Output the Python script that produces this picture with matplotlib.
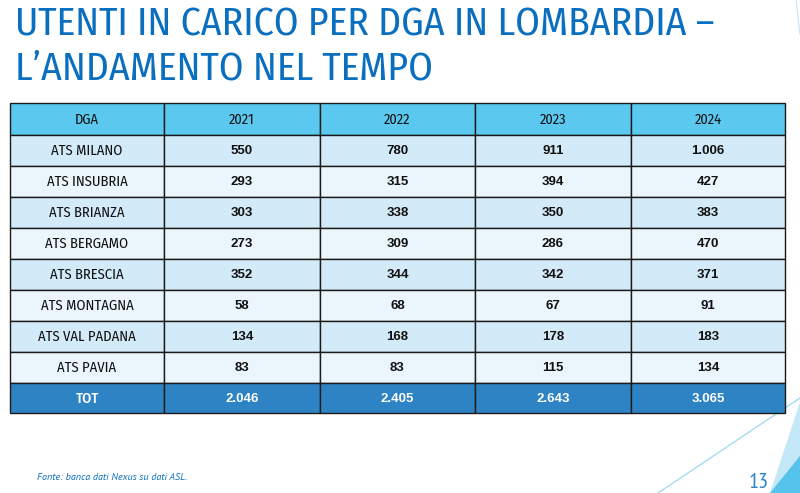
import matplotlib
matplotlib.use("Agg")
import matplotlib.pyplot as plt
from matplotlib.patches import Rectangle, Polygon

# ---- data ----
title_lines = ["UTENTI IN CARICO PER DGA IN LOMBARDIA –", "L’ANDAMENTO NEL TEMPO"]
header = ["DGA", "2021", "2022", "2023", "2024"]
dga = ["ATS MILANO", "ATS INSUBRIA", "ATS BRIANZA", "ATS BERGAMO",
       "ATS BRESCIA", "ATS MONTAGNA", "ATS VAL PADANA", "ATS PAVIA"]
v2021 = ["550", "293", "303", "273", "352", "58", "134", "83"]
v2022 = ["780", "315", "338", "309", "344", "68", "168", "83"]
v2023 = ["911", "394", "350", "286", "342", "67", "178", "115"]
v2024 = ["1.006", "427", "383", "470", "371", "91", "183", "134"]
tot_label = "TOT"
tot = ["2.046", "2.405", "2.643", "3.065"]
source = "Fonte: banca dati Nexus su dati ASL."
page = "13"

# ---- styling ----
BLUE = "#0B6FC0"
HEAD = "#5BC9EF"
ROW_A = "#D3EAF8"
ROW_B = "#EAF5FC"
TOTC = "#2E83C4"
COND = ["Fira Sans Condensed", "PT Sans Narrow", "DejaVu Sans"]
NARROW = ["PT Sans Narrow", "DejaVu Sans"]
NUM = ["Liberation Sans", "DejaVu Sans"]

W, H = 800, 493
fig = plt.figure(figsize=(W / 100, H / 100), dpi=100)
ax = fig.add_axes([0, 0, 1, 1])
ax.set_xlim(0, W)
ax.set_ylim(H, 0)
ax.axis("off")

# title
ax.text(15, 35, title_lines[0], fontsize=28.5, color=BLUE, family=COND,
        ha="left", va="baseline")
ax.text(15, 79, title_lines[1], fontsize=28.5, color=BLUE, family=COND,
        ha="left", va="baseline")

# table geometry
col_x = [10, 164, 320, 475, 631, 785]
y0 = 103
head_h = 32
row_h = 31

cols = [v2021, v2022, v2023, v2024]

def cell(x0, x1, yt, h, color):
    ax.add_patch(Rectangle((x0, yt), x1 - x0, h, facecolor=color,
                           edgecolor="#1a1a1a", linewidth=1.0, zorder=2))

# header
for j, txt in enumerate(header):
    cell(col_x[j], col_x[j + 1], y0, head_h, HEAD)
    ax.text((col_x[j] + col_x[j + 1]) / 2, y0 + head_h / 2 + 0.5, txt,
            fontsize=10.3, family=COND, color="#111111",
            ha="center", va="center", zorder=3)

# body rows
for i, name in enumerate(dga):
    yt = y0 + head_h + i * row_h
    color = ROW_A if i % 2 == 0 else ROW_B
    cell(col_x[0], col_x[1], yt, row_h, color)
    ax.text((col_x[0] + col_x[1]) / 2, yt + row_h / 2 + 0.5, name,
            fontsize=10.5, family=COND, color="#111111",
            ha="center", va="center", zorder=3)
    for j, c in enumerate(cols):
        cell(col_x[j + 1], col_x[j + 2], yt, row_h, color)
        ax.text((col_x[j + 1] + col_x[j + 2]) / 2, yt + row_h / 2 + 0.5, c[i],
                fontsize=9.5, family=NUM, fontweight="bold",
                color="#111111", ha="center", va="center", zorder=3)

# total row
yt = y0 + head_h + len(dga) * row_h
cell(col_x[0], col_x[1], yt, row_h - 1, TOTC)
ax.text((col_x[0] + col_x[1]) / 2, yt + row_h / 2, tot_label,
        fontsize=10.5, family=COND, fontweight="medium", color="white",
        ha="center", va="center", zorder=3)
for j, t in enumerate(tot):
    cell(col_x[j + 1], col_x[j + 2], yt, row_h - 1, TOTC)
    ax.text((col_x[j + 1] + col_x[j + 2]) / 2, yt + row_h / 2, t,
            fontsize=9.5, family=NUM, fontweight="bold",
            color="white", ha="center", va="center", zorder=3)

# decorations (bottom-right)
ax.plot([658, 800], [493, 398], color="#9ED8F2", linewidth=0.9, zorder=1)
ax.add_patch(Polygon([[770, 493], [800, 402], [800, 493]], closed=True,
                     facecolor="#C4E8F8", edgecolor="none", zorder=1))
ax.add_patch(Polygon([[770, 493], [800, 456], [800, 493]], closed=True,
                     facecolor="#55C3EB", edgecolor="none", zorder=1))
ax.plot([796, 800], [0, 34], color="#BFE5F6", linewidth=0.8, zorder=1)

# footnote and page number
ax.text(37, 478, source, fontsize=7.3, style="italic", family=["PT Sans", "DejaVu Sans"],
        color=BLUE, ha="left", va="center")
ax.text(769, 482, page, fontsize=16, family=NARROW, color="#2A86C8",
        ha="right", va="center")

fig.savefig("out.png", dpi=100)
